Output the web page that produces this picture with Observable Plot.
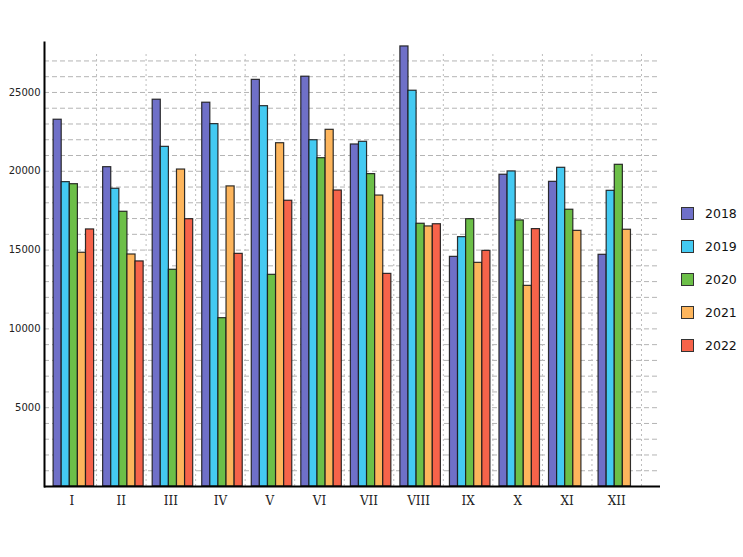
<!DOCTYPE html>
<html>
<head>
<meta charset="utf-8">
<script src="https://cdn.jsdelivr.net/npm/d3@7"></script>
<script src="https://cdn.jsdelivr.net/npm/@observablehq/plot@0.6"></script>
<style>
  html, body { margin: 0; padding: 0; background: #fff; }
  #wrap { position: relative; width: 743px; height: 557px; }
  #legend { position: absolute; left: 681px; top: 197px; font-family: "DejaVu Sans", Verdana, sans-serif; font-size: 12.5px; color: #111; }
  .item { display: flex; align-items: center; height: 33px; }
  .sw { width: 11px; height: 11px; border: 1px solid #333; margin-right: 11px; box-sizing: content-box; }
</style>
</head>
<body>
<div id="wrap"><div id="legend"></div></div>
<script>
const months = ["I","II","III","IV","V","VI","VII","VIII","IX","X","XI","XII"];
const years = ["2018","2019","2020","2021","2022"];
const v2018 = [23270, 20260, 24540, 24350, 25800, 26000, 21700, 27920, 14570, 19780, 19330, 14700];
const v2019 = [19310, 18890, 21550, 22990, 24130, 21970, 21870, 25110, 15820, 19990, 20220, 18760];
const v2020 = [19180, 17430, 13750, 10680, 13430, 20830, 19820, 16670, 16960, 16880, 17560, 20410];
const v2021 = [14830, 14720, 20110, 19040, 21780, 22630, 18460, 16500, 14190, 12730, 16220, 16290];
const v2022 = [16310, 14280, 16960, 14760, 18130, 18780, 13490, 16640, 14950, 16330, null, null];
const yTicks = [5000, 10000, 15000, 20000, 25000];
const gridValues = d3.range(1000, 28000, 1000);
const yMax = 28170;
const gridTop = 27450;

const series = [v2018, v2019, v2020, v2021, v2022];
const colors = ["#6f70c8", "#44caf2", "#6cbf48", "#fdb55c", "#f6634a"];

const W = 743, H = 557;
const mL = 44, mR = 83, mT = 42, mB = 71;
const xRange = [46.5, 641];
const bw = (xRange[1] - xRange[0]) / months.length;
const barW = 8.1, groupOffset = 6.6;

const marks = [
  Plot.ruleY(gridValues, {stroke: "#b4b4b4", strokeDasharray: "5,3"}),
  Plot.ruleX(months, {x: d => d, dx: bw / 2, y1: 0, y2: gridTop, stroke: "#bdbdbd", strokeDasharray: "2,3"})
];
series.forEach((vals, i) => {
  const data = months.map((m, j) => ({month: m, year: years[i], value: vals[j]})).filter(d => d.value != null);
  const il = groupOffset + barW * i;
  marks.push(Plot.barY(data, {
    x: "month", y: "value", fill: colors[i],
    stroke: "#1a1a1a", strokeOpacity: 0.9, strokeWidth: 1.2,
    insetLeft: il, insetRight: bw - il - barW
  }));
});
marks.push(Plot.ruleY([0], {stroke: "#000", strokeWidth: 2}));
marks.push(Plot.frame({anchor: "left", stroke: "#000", strokeWidth: 2}));
marks.push(Plot.axisY({ticks: yTicks, tickSize: 0, tickPadding: 4, tickFormat: d => String(d), fontSize: 10, fontFamily: "DejaVu Sans, Verdana, sans-serif", fill: "#222"}));
marks.push(Plot.axisX({tickSize: 0, tickPadding: 10, fontSize: 12, fontFamily: "DejaVu Serif, serif", fill: "#222"}));

const chart = Plot.plot({
  width: W, height: H,
  marginLeft: mL, marginRight: mR, marginTop: mT, marginBottom: mB,
  x: {domain: months, range: xRange, padding: 0, round: false, label: null},
  y: {domain: [0, yMax], label: null},
  style: {background: "#fff"},
  marks
});
document.getElementById("wrap").prepend(chart);

const legend = document.getElementById("legend");
years.forEach((y, i) => {
  const it = document.createElement("div");
  it.className = "item";
  const sw = document.createElement("div");
  sw.className = "sw";
  sw.style.background = colors[i];
  const t = document.createElement("span");
  t.textContent = y;
  it.appendChild(sw); it.appendChild(t);
  legend.appendChild(it);
});
</script>
</body>
</html>
